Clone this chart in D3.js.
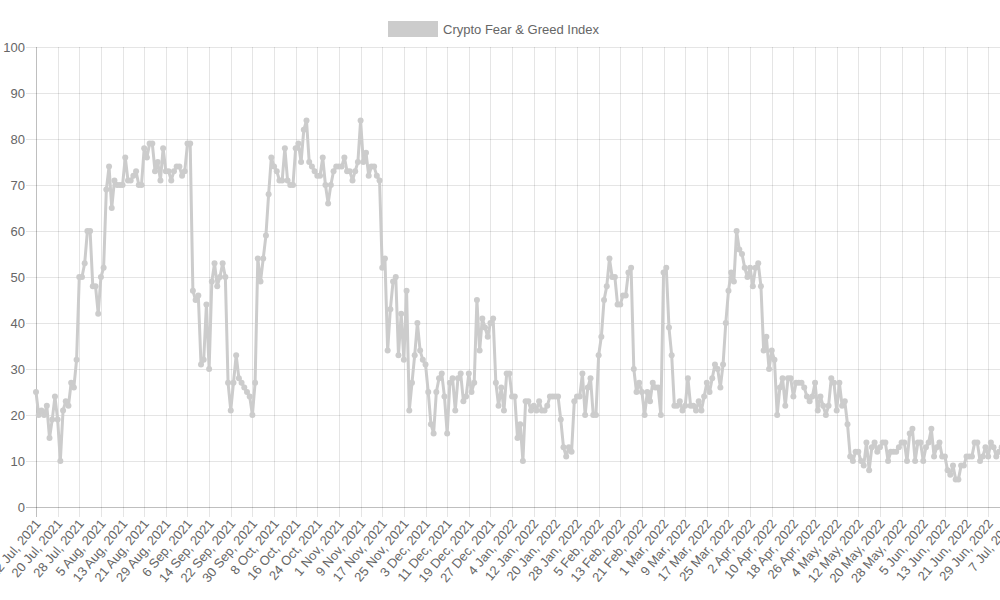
<!DOCTYPE html>
<html><head><meta charset="utf-8">
<script src="https://cdn.jsdelivr.net/npm/d3@7"></script>
<style>html,body{margin:0;padding:0;background:#fff;overflow:hidden}svg{display:block}</style>
</head><body>
<svg id="c" width="1000" height="600"></svg>
<script>
// Daily values, 12 Jul 2021 .. 7 Jul 2022
const startDate = "2021-07-12";
const seriesName = "Crypto Fear & Greed Index";
const values = [
25,20,21,20,22,15,19,24,19,10, 21,23,22,27,26,32,50,50,53,60,
60,48,48,42,50,52,69,74,65,71, 70,70,70,76,71,71,72,73,70,70,
78,76,79,79,73,75,71,78,73,73, 71,73,74,74,72,73,79,79,47,45,
46,31,32,44,30,49,53,48,50,53, 50,27,21,27,33,28,27,26,25,24,
20,27,54,49,54,59,68,76,74,73, 71,71,78,71,70,70,78,79,75,82,
84,75,74,73,72,72,76,70,66,70, 73,74,74,74,76,73,73,71,73,75,
84,75,77,72,74,74,72,71,52,54, 34,43,49,50,33,42,32,47,21,27,
33,40,34,32,31,25,18,16,25,28, 29,24,16,27,28,21,28,29,23,24,
29,25,27,45,34,41,39,37,40,41, 27,22,26,21,29,29,24,24,15,18,
10,23,23,21,22,21,23,21,21,22, 24,24,24,24,19,13,11,13,12,23,
24,24,29,20,26,28,20,20,33,37, 45,48,54,50,50,44,44,46,46,51,
52,30,25,27,25,20,25,23,27,26, 26,20,51,52,39,33,22,22,23,21,
22,28,22,22,21,23,21,24,27,25, 28,31,30,26,31,40,47,51,49,60,
56,55,52,50,52,48,52,53,48,34, 37,30,34,32,20,26,28,22,28,28,
24,27,27,27,26,24,23,24,27,21, 24,22,20,22,28,27,21,27,22,23,
18,11,10,12,12,10,9,14,8,13, 14,12,13,14,14,10,12,12,12,13,
14,14,10,16,17,10,14,14,10,13, 14,17,11,13,14,11,11,8,7,9,
6,6,9,9,11,11,11,14,14,10, 11,13,11,14,13,11,12,13,12,14,
15
];
const yTicks = [0,10,20,30,40,50,60,70,80,90,100];
const tickEvery = 8;

(function(){
const parse = d3.timeParse("%Y-%m-%d");
const fmt = d3.timeFormat("%-d %b, %Y");
const t0 = parse(startDate);
const dates = values.map((v,i)=>d3.timeDay.offset(t0,i));
const data = values.map((v,i)=>({date:dates[i], value:v}));
const tickDates = dates.filter((d,i)=>i%tickEvery===0);

const pl=36, pt=47, pb=507, perDay=2.705;
const pr = pl + perDay*(values.length-1);
const svg = d3.select("#c");
const font = "'Helvetica Neue', Helvetica, Arial, 'Liberation Sans', sans-serif";

const x = d3.scaleTime().domain([dates[0], dates[dates.length-1]]).range([pl,pr]);
const y = d3.scaleLinear().domain([0,100]).range([pb,pt]);

const g = svg.append("g");
g.selectAll(".hg").data(yTicks).join("line")
 .attr("x1",pl-10).attr("x2",Math.max(pr,1000)).attr("y1",d=>Math.round(y(d))+0.5).attr("y2",d=>Math.round(y(d))+0.5)
 .attr("stroke",d=>d===0?"rgba(0,0,0,0.25)":"rgba(0,0,0,0.1)").attr("stroke-width",1);
g.selectAll(".vg").data(tickDates).join("line")
 .attr("x1",d=>Math.round(x(d))+0.5).attr("x2",d=>Math.round(x(d))+0.5).attr("y1",pt).attr("y2",pb+10)
 .attr("stroke",(d,i)=>i===0?"rgba(0,0,0,0.25)":"rgba(0,0,0,0.1)").attr("stroke-width",1);

svg.append("g").selectAll("text").data(yTicks).join("text")
 .attr("x",pl-11).attr("y",d=>y(d)).attr("dy","0.35em").attr("text-anchor","end")
 .attr("font-family",font).attr("font-size",13).attr("fill","#666").text(d=>d);

svg.append("g").selectAll("text").data(tickDates).join("text")
 .attr("transform",d=>`translate(${x(d)+2},${pb+14}) rotate(-50)`)
 .attr("text-anchor","end").attr("dy","0.35em")
 .attr("font-family",font).attr("font-size",13).attr("fill","#666").text(d=>fmt(d));

const col = "rgba(204,204,204,1)";
const line = d3.line().x(d=>x(d.date)).y(d=>y(d.value));
svg.append("path").datum(data).attr("d",line).attr("fill","none")
 .attr("stroke",col).attr("stroke-width",3).attr("stroke-linejoin","round");
svg.append("g").selectAll("circle").data(data).join("circle")
 .attr("cx",d=>x(d.date)).attr("cy",d=>y(d.value)).attr("r",3).attr("fill",col);

const lg = svg.append("g");
lg.append("rect").attr("x",388.5).attr("y",21.5).attr("width",49).attr("height",15)
 .attr("fill",col).attr("stroke",col);
lg.append("text").attr("x",443).attr("y",29).attr("dy","0.35em")
 .attr("font-family",font).attr("font-size",13).attr("fill","#666").text(seriesName);
})();
</script>
</body></html>
